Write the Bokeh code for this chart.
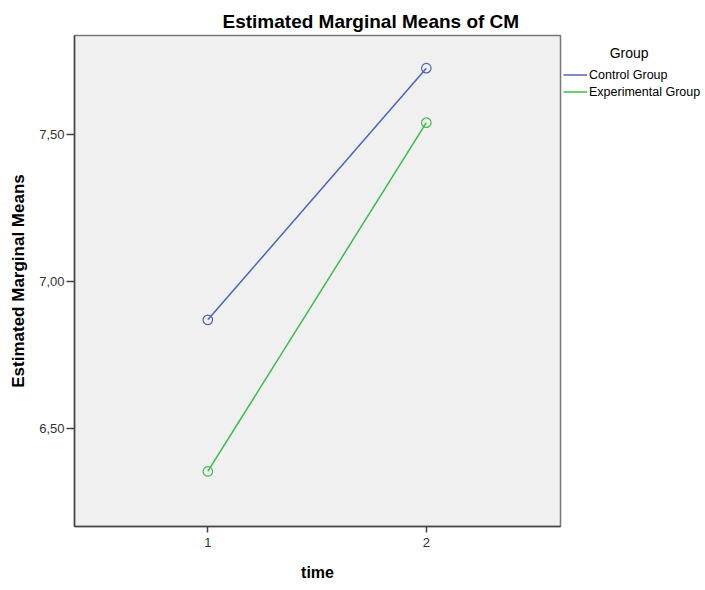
from bokeh.plotting import figure
from bokeh.models import Range1d, FixedTicker, Legend, LegendItem
from bokeh.embed import file_html
from bokeh.resources import INLINE

# data
time = [1, 2]
control = [6.870, 7.725]
experimental = [6.355, 7.540]
y_ticks = [6.5, 7.0, 7.5]
y_tick_labels = ["6,50", "7,00", "7,50"]
x_ticks = [1, 2]
x_tick_labels = ["1", "2"]
group_names = ["Control Group", "Experimental Group"]
legend_title = "Group"

FONT = "Liberation Sans"
BLUE = "#4e63bd"
GREEN = "#3dbb4c"

p = figure(frame_width=486, frame_height=491, output_backend="svg",
           toolbar_location=None,
           x_range=Range1d(0.39, 2.614), y_range=Range1d(6.168, 7.836),
           min_border_left=74, min_border_right=140, min_border_top=35,
           min_border_bottom=62)
p.title.text = "Estimated Marginal Means of CM"
p.title.text_font = FONT
p.title.text_font_size = "19px"
p.title.text_font_style = "bold"
p.title.text_color = "#000000"
p.title.align = "left"
p.title.offset = 148
p.title.standoff = 7

p.background_fill_color = "#f0f0f0"
p.border_fill_color = "white"
p.outline_line_color = "#777777"
p.outline_line_width = 1.5
p.grid.visible = False

for ax in (p.xaxis, p.yaxis):
    ax.axis_line_color = "#444444"
    ax.axis_line_width = 1.5
    ax.major_tick_line_color = "#444444"
    ax.major_tick_line_width = 1.5
    ax.major_tick_in = 0
    ax.minor_tick_line_color = None
    ax.major_label_text_font = FONT
    ax.major_label_text_font_size = "13px"
    ax.major_label_text_color = "#333333"
    ax.axis_label_text_font = FONT
    ax.axis_label_text_font_style = "bold"
    ax.axis_label_text_color = "#000000"

p.yaxis.ticker = FixedTicker(ticks=y_ticks)
p.yaxis.major_label_overrides = dict(zip(y_ticks, y_tick_labels))
p.yaxis.major_tick_out = 8
p.yaxis.major_label_standoff = 2
p.yaxis.axis_label = "Estimated Marginal Means"
p.yaxis.axis_label_text_font_size = "17px"
p.yaxis.axis_label_standoff = 8

p.xaxis.ticker = FixedTicker(ticks=x_ticks)
p.xaxis.major_label_overrides = dict(zip(x_ticks, x_tick_labels))
p.xaxis.major_tick_out = 6
p.xaxis.major_label_standoff = 5
p.xaxis.axis_label = "time"
p.xaxis.axis_label_text_font_size = "16px"
p.xaxis.axis_label_standoff = 14

l1 = p.line(time, control, line_color=BLUE, line_width=1.5)
c1 = p.scatter(time, control, marker="circle", size=9.5, fill_color=None,
               line_color=BLUE, line_width=1.2)
l2 = p.line(time, experimental, line_color=GREEN, line_width=1.5)
c2 = p.scatter(time, experimental, marker="circle", size=9.5, fill_color=None,
               line_color=GREEN, line_width=1.2)

legend = Legend(items=[LegendItem(label=group_names[0], renderers=[l1]),
                       LegendItem(label=group_names[1], renderers=[l2])],
                location=(3, 426), orientation="vertical",
                title="\u00a0" * 12 + legend_title,
                title_text_font=FONT, title_text_font_size="14px",
                title_text_font_style="normal", title_text_color="#000000",
                title_standoff=5,
                border_line_alpha=0, background_fill_alpha=0,
                padding=0, margin=0, spacing=0,
                glyph_width=24, glyph_height=17, label_height=17,
                label_standoff=2, label_text_font=FONT,
                label_text_font_size="12.5px", label_text_color="#000000")
p.add_layout(legend, "right")

open("out.html", "w").write(file_html(p, INLINE))
